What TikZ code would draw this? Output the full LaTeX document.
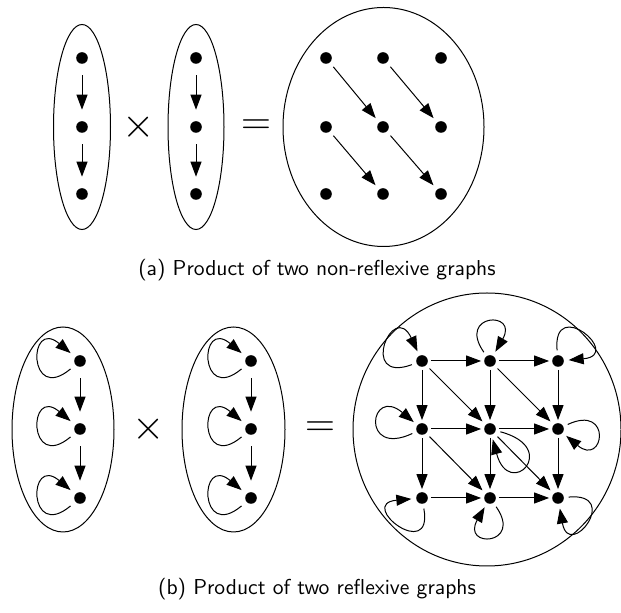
\documentclass[tikz,border=0pt]{standalone}
\usetikzlibrary{arrows.meta,shapes.geometric}

\begin{document}
\begin{tikzpicture}[x=0.5pt, y=-0.5pt, line width=0.5pt,
  dot/.style={circle, fill=black, inner sep=0pt, minimum size=5.8pt},
  blob/.style={draw, ellipse, inner sep=0pt, outer sep=0pt},
  arr/.style={-{Triangle[length=7.5pt,width=5.5pt]}, shorten <=#1, shorten >=#1},
  arr/.default=1.3pt,
  selfloop/.style={arr=2.2pt, looseness=1, min distance=#1},
  selfloop/.default=29pt,
  op/.style={font=\fontsize{20}{24}\selectfont},
  caption/.style={font=\fontsize{10.8}{13}\selectfont\sffamily}]
\useasboundingbox (0,0) rectangle (621,613);

% --- Panel (a): two non-reflexive graphs ---
\node[blob, minimum width=28.5pt, minimum height=102.5pt] (fa) at (82,127) {};
\node[dot] (a1) at (82,58) {};
\node[dot] (a2) at (82,127) {};
\node[dot] (a3) at (82,194) {};
\draw[arr=5.5pt] (a1) -- (a2);
\draw[arr=5.5pt] (a2) -- (a3);

\node[op] (times-a) at (139,127) {$\times$};

\node[blob, minimum width=28pt, minimum height=102.5pt] (fb) at (196,127) {};
\node[dot] (b1) at (196,58) {};
\node[dot] (b2) at (196,127) {};
\node[dot] (b3) at (196,194) {};
\draw[arr=5.5pt] (b1) -- (b2);
\draw[arr=5.5pt] (b2) -- (b3);

\node[op] (eq-a) at (256,127) {$=$};

% product
\node[blob, minimum width=100.5pt, minimum height=119.5pt] (pa) at (383.5,127) {};
\node[dot] (q11) at (326,58) {};
\node[dot] (q21) at (383,58) {};
\node[dot] (q31) at (441,58) {};
\node[dot] (q12) at (326,127) {};
\node[dot] (q22) at (383,127) {};
\node[dot] (q32) at (441,127) {};
\node[dot] (q13) at (326,194) {};
\node[dot] (q23) at (383,194) {};
\node[dot] (q33) at (441,194) {};
\draw[arr=2.6pt] (q11) -- (q22);
\draw[arr=2.6pt] (q21) -- (q32);
\draw[arr=2.6pt] (q12) -- (q23);
\draw[arr=2.6pt] (q22) -- (q33);

\node[caption] (cap-a) at (317,270) {(a) Product of two non-reflexive graphs};

% --- Panel (b): two reflexive graphs ---
\node[blob, minimum width=51pt, minimum height=102.5pt] (fc) at (63,429.5) {};
\node[dot] (c1) at (80,361) {};
\node[dot] (c2) at (80,429) {};
\node[dot] (c3) at (80,498) {};
\draw[selfloop=31pt, arr=3pt] (c1) to[out=220, in=140] (c1);
\draw[selfloop=31pt, arr=3pt] (c2) to[out=220, in=140] (c2);
\draw[selfloop=31pt, arr=3pt] (c3) to[out=220, in=140] (c3);
\draw[arr=5.5pt] (c1) -- (c2);
\draw[arr=5.5pt] (c2) -- (c3);

\node[op] (times-b) at (149,429) {$\times$};

\node[blob, minimum width=51.5pt, minimum height=102.5pt] (fd) at (233.5,429.5) {};
\node[dot] (d1) at (251,361) {};
\node[dot] (d2) at (251,429) {};
\node[dot] (d3) at (251,498) {};
\draw[selfloop=31pt, arr=3pt] (d1) to[out=220, in=140] (d1);
\draw[selfloop=31pt, arr=3pt] (d2) to[out=220, in=140] (d2);
\draw[selfloop=31pt, arr=3pt] (d3) to[out=220, in=140] (d3);
\draw[arr=5.5pt] (d1) -- (d2);
\draw[arr=5.5pt] (d2) -- (d3);

\node[op] (eq-b) at (320,429) {$=$};

% product
\node[blob, minimum width=134pt, minimum height=136.5pt] (pb) at (487,429.5) {};
\node[dot] (p11) at (422,361) {};
\node[dot] (p21) at (490,361) {};
\node[dot] (p31) at (558,361) {};
\node[dot] (p12) at (422,429) {};
\node[dot] (p22) at (490,429) {};
\node[dot] (p32) at (558,429) {};
\node[dot] (p13) at (422,498) {};
\node[dot] (p23) at (490,498) {};
\node[dot] (p33) at (558,498) {};

% rows and columns
\draw[arr] (p11) -- (p21);
\draw[arr] (p21) -- (p31);
\draw[arr] (p12) -- (p22);
\draw[arr] (p22) -- (p32);
\draw[arr] (p13) -- (p23);
\draw[arr] (p23) -- (p33);
\draw[arr] (p11) -- (p12);
\draw[arr] (p12) -- (p13);
\draw[arr] (p21) -- (p22);
\draw[arr] (p22) -- (p23);
\draw[arr] (p31) -- (p32);
\draw[arr] (p32) -- (p33);
% diagonals
\draw[arr=2.2pt] (p11) -- (p22);
\draw[arr=2.2pt] (p21) -- (p32);
\draw[arr=2.2pt] (p12) -- (p23);
\draw[arr=2.2pt] (p22) -- (p33);

% self loops
\draw[selfloop=31pt] (p11) to[out=200, in=115] (p11);
\draw[selfloop=26pt] (p21) to[out=125, in=60] (p21);
\draw[selfloop=30pt] (p31) to[out=95, in=5] (p31);
\draw[selfloop=31pt] (p12) to[out=205, in=140] (p12);
\draw[selfloop=34pt] (p22) to[out=-15, in=-75] (p22);
\draw[selfloop=27pt] (p32) to[out=25, in=-40] (p32);
\draw[selfloop=30pt] (p13) to[out=-80, in=185] (p13);
\draw[selfloop=26pt] (p23) to[out=-55, in=-120] (p23);
\draw[selfloop] (p33) to[out=5, in=-80] (p33);

\node[caption] (cap-b) at (317,589) {(b) Product of two reflexive graphs};

\end{tikzpicture}
\end{document}
